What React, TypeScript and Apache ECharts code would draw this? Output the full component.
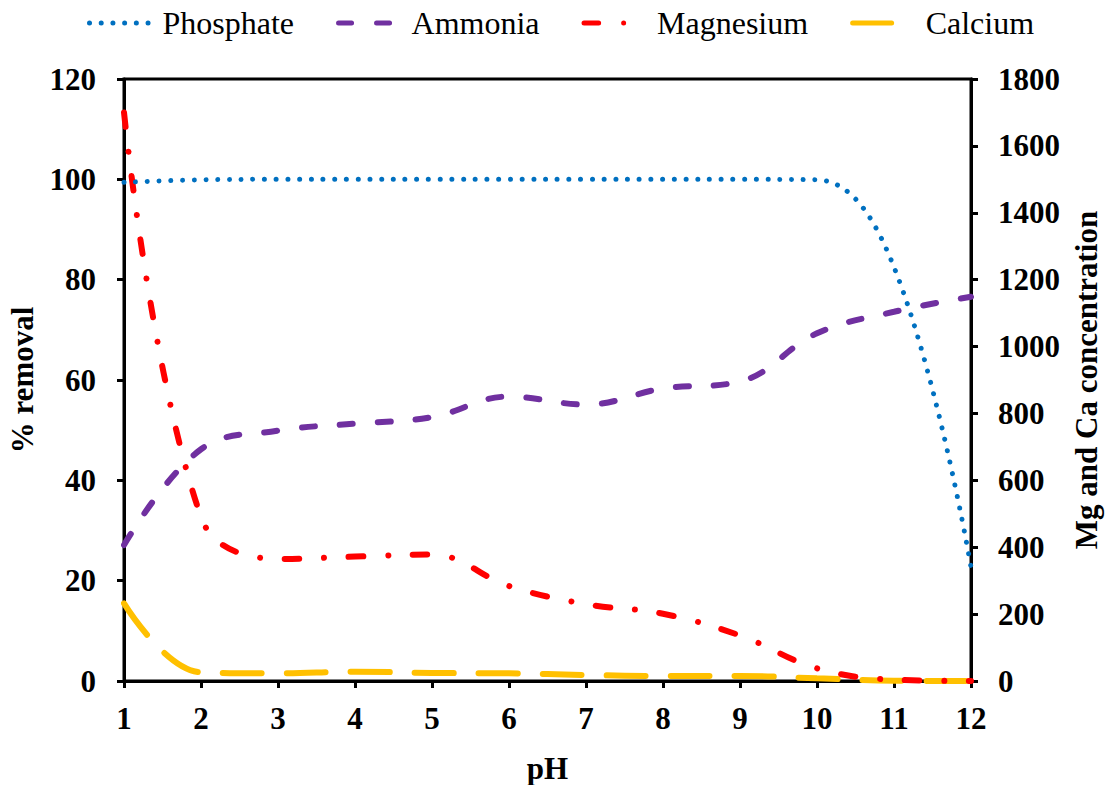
import React, { useEffect, useRef } from "react";
import * as echarts from "echarts";

const pH = [1, 2, 3, 4, 5, 6, 7, 8, 9, 10, 11, 12];
const phosphate = [99.4, 99.9, 100, 100, 100, 100, 100, 100, 100, 99.9, 82.5, 22.7];
const ammonia = [27.1, 46.2, 49.9, 51.3, 52.6, 56.7, 55.1, 58.3, 59.7, 69.3, 73.6, 76.6];
const magnesium = [1700, 490, 365, 372, 378, 284, 230, 201, 136, 38, 4, 0];
const calcium = [232, 26, 23, 28, 24, 23, 18, 15, 15, 8, 1, 0];

const seriesNames = ["Phosphate", "Ammonia", "Magnesium", "Calcium"];
const FONT = "'Liberation Serif', 'Times New Roman', serif";

const pairs = (ys: number[]) => pH.map((x, i) => [x, ys[i]]);

export default function App() {
  const ref = useRef<HTMLDivElement>(null);
  useEffect(() => {
    if (!ref.current) return;
    const chart = echarts.init(ref.current, undefined, { renderer: "svg" });
    const axisLabel = {
      color: "#000",
      fontFamily: FONT,
      fontWeight: "bold" as const,
      fontSize: 31,
      formatter: (v: number) => String(v),
    };
    const nameStyle = { color: "#000", fontFamily: FONT, fontWeight: "bold" as const, fontSize: 31 };
    const axisLine = { show: true, lineStyle: { color: "#000", width: 3 } };
    const axisTick = { show: true, length: 7, lineStyle: { color: "#000", width: 3 } };
    chart.setOption({
      animation: false,
      backgroundColor: "#fff",
      legend: {
        top: 2,
        left: 82,
        itemWidth: 62,
        itemHeight: 14,
        itemGap: 42,
        itemStyle: { opacity: 0 },
        lineStyle: { width: 5 },
        textStyle: { color: "#000", fontFamily: FONT, fontSize: 32, padding: [0, 0, 0, 6] },
        data: seriesNames,
      },
      grid: {
        left: 124,
        right: 143,
        top: 79,
        bottom: 104,
        outerBoundsMode: "none",
        show: true,
        borderColor: "#000",
        borderWidth: 3,
      },
      xAxis: {
        type: "value",
        min: 1,
        max: 12,
        interval: 1,
        name: "pH",
        nameLocation: "middle",
        nameGap: 72,
        nameTextStyle: nameStyle,
        axisLine,
        axisTick,
        axisLabel: { ...axisLabel, margin: 22 },
        splitLine: { show: false },
      },
      yAxis: [
        {
          type: "value",
          min: 0,
          max: 120,
          interval: 20,
          position: "left",
          name: "% removal",
          nameLocation: "middle",
          nameRotate: 90,
          nameGap: 86,
          nameTextStyle: nameStyle,
          axisLine,
          axisTick,
          axisLabel: { ...axisLabel, margin: 28 },
          splitLine: { show: false },
        },
        {
          type: "value",
          min: 0,
          max: 1800,
          interval: 200,
          position: "right",
          name: "Mg and Ca concentration",
          nameLocation: "middle",
          nameRotate: 90,
          nameGap: 100,
          nameTextStyle: nameStyle,
          axisLine,
          axisTick,
          axisLabel: { ...axisLabel, margin: 27 },
          splitLine: { show: false },
        },
      ],
      series: [
        {
          name: "Phosphate",
          type: "line",
          yAxisIndex: 0,
          smooth: 0.4,
          symbol: "none",
          data: pairs(phosphate),
          itemStyle: { color: "#0070C0" },
          lineStyle: { color: "#0070C0", width: 5, type: [0.01, 11.7], cap: "round" },
          z: 4,
        },
        {
          name: "Ammonia",
          type: "line",
          yAxisIndex: 0,
          smooth: 0.4,
          symbol: "none",
          data: pairs(ammonia),
          itemStyle: { color: "#7030A0" },
          lineStyle: { color: "#7030A0", width: 6, type: [13, 25], cap: "round" },
          z: 3,
        },
        {
          name: "Magnesium",
          type: "line",
          yAxisIndex: 1,
          smooth: 0.4,
          symbol: "none",
          data: pairs(magnesium),
          itemStyle: { color: "#FF0000" },
          lineStyle: { color: "#FF0000", width: 6, type: [14.6, 25, 0.01, 24.5], cap: "round" },
          z: 2,
        },
        {
          name: "Calcium",
          type: "line",
          yAxisIndex: 1,
          smooth: 0.4,
          symbol: "none",
          data: pairs(calcium),
          itemStyle: { color: "#FFC000" },
          lineStyle: { color: "#FFC000", width: 6, type: [39, 25], cap: "round" },
          z: 1,
        },
      ],
    });
    return () => chart.dispose();
  }, []);
  return (
    <div
      ref={ref}
      style={{ position: "fixed", left: 0, top: 0, width: 1114, height: 785, background: "#fff" }}
    />
  );
}
